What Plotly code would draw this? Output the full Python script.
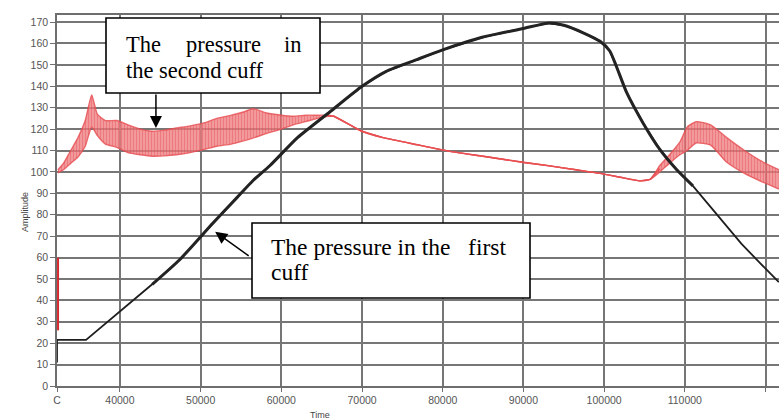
import plotly.graph_objects as go

# ---- data -------------------------------------------------------------
# first cuff (black) pressure vs time
time_first = [32200, 32200, 35800, 41200, 44000, 47400, 51500, 54500, 56500,
              58600, 62000, 66000, 70000, 73000, 76800, 80000, 85000, 90000,
              93000, 95000, 97400, 99500, 100700, 101500, 102800, 104800,
              106900, 109000, 111000, 113000, 115200, 117000, 119300, 121650]
pressure_first = [11, 21.5, 21.5, 38.5, 47.5, 59, 76, 88, 96,
                  103, 116, 128, 140, 147, 152.5, 157, 163, 167,
                  169.5, 168.5, 165, 161, 156.5, 149.5, 137, 123,
                  110.5, 101, 93.5, 84.5, 74.5, 66.5, 57.5, 48.5]

# second cuff (red) pressure: upper and lower envelope of the oscillation
time_second = [32300, 33000, 33900, 34800, 35700, 36500, 37200, 38200, 39600,
               41000, 42500, 44000, 45500, 47000, 48700, 50500, 52000, 53800,
               55300, 56500, 58200, 60000, 61500, 63000, 64500, 65800, 66500,
               68500, 70000, 72600, 76800, 80900, 85000, 90200, 93300, 96500,
               99500, 102000, 104400, 105700, 106900, 108100, 109400, 110300,
               111400, 113200, 115200, 117400, 119500, 121650]
second_upper = [101, 104, 110, 116, 124, 136, 127, 124, 124,
                122, 120, 119, 119.5, 120.5, 121.5, 123, 125, 126.5,
                128, 129.5, 127.5, 126.5, 126, 126.5, 126.5, 126.5, 126,
                122, 119, 116, 112.7, 109.6, 107.3, 104.3, 102.8, 101,
                99.3, 97.5, 95.8, 96.5, 103, 108, 114, 121,
                123.5, 122, 116, 110, 105, 101]
second_lower = [99.5, 101, 104, 107, 112, 121, 117, 113, 111.5,
                109, 108, 107.3, 107.5, 108, 109, 110.5, 112, 113,
                114.5, 115.8, 118, 120, 122, 123.5, 125, 126, 126,
                122, 119, 116, 112.7, 109.6, 107.3, 104.3, 102.8, 101,
                99.3, 97.5, 95.8, 96.5, 100, 104, 108, 110,
                113.5, 112.5, 104.5, 99.3, 95.5, 92]

# short start-up trace of the second channel at the left edge
time_second_start = [32330, 32330]
pressure_second_start = [26, 60]

x_tick_values = [32200, 40000, 50000, 60000, 70000, 80000, 90000, 100000, 110000, 120000]
x_tick_labels = ["C", "40000", "50000", "60000", "70000", "80000", "90000", "100000", "110000", "120000"]

# ---- geometry ---------------------------------------------------------
W, H = 779, 419
ML, MR, MT, MB = 57, 0, 15, 33
PW, PH = W - ML - MR, H - MT - MB
X_RANGE = [32200, 121670]
Y_RANGE = [0, 173.3]


def px(xp):
    return (xp - ML) / PW


def py(yp):
    return (H - MB - yp) / PH


RED = "rgb(232,80,82)"
RED_SOFT = "rgba(230,76,80,0.8)"

fig = go.Figure()

# red band: lower edge, then upper edge filled down to it with vertical hatching
fig.add_trace(go.Scatter(
    x=time_second, y=second_lower, mode="lines", line_shape="spline",
    line=dict(color=RED_SOFT, width=1.4, smoothing=0.5), hoverinfo="skip", showlegend=False))
fig.add_trace(go.Scatter(
    x=time_second, y=second_upper, mode="lines", line_shape="spline",
    line=dict(color=RED_SOFT, width=1.4, smoothing=0.5), fill="tonexty",
    fillpattern=dict(shape="|", fgcolor="rgba(226,60,66,0.9)",
                     bgcolor="rgba(242,138,140,0.7)", size=3, solidity=0.6),
    hoverinfo="skip", showlegend=False))
# smooth part of the second cuff drawn with a solid line
smooth_idx = [i for i, (u, l) in enumerate(zip(second_upper, second_lower)) if u == l]
seg = range(smooth_idx[0] - 1, smooth_idx[-1] + 2)
fig.add_trace(go.Scatter(
    x=[time_second[i] for i in seg],
    y=[(second_upper[i] + second_lower[i]) / 2 for i in seg],
    mode="lines", line=dict(color=RED, width=1.4), showlegend=False, hoverinfo="skip"))
fig.add_trace(go.Scatter(
    x=time_second_start, y=pressure_second_start, mode="lines",
    line=dict(color="rgb(215,40,45)", width=2), showlegend=False))

# black curve: thin base line plus a heavier middle section
fig.add_trace(go.Scatter(
    x=time_first, y=pressure_first, mode="lines",
    line=dict(color="rgb(30,30,30)", width=1.8), showlegend=False))
mid = [i for i, t in enumerate(time_first) if 44000 <= t <= 111500]
fig.add_trace(go.Scatter(
    x=[time_first[i] for i in mid], y=[pressure_first[i] for i in mid], mode="lines",
    line=dict(color="rgb(35,35,35)", width=3, shape="spline", smoothing=0.6), showlegend=False))

SERIF = "Liberation Serif, Times New Roman, serif"
FS = 22.5


def word(text, xp, yp, anchor="left", size=FS):
    return dict(xref="paper", yref="paper", x=px(xp), y=py(yp), xanchor=anchor,
                yanchor="middle", text=text, showarrow=False,
                font=dict(family=SERIF, size=size, color="black"))


annotations = [
    # first callout: justified top line, then second line
    word("The", 124, 44), word("pressure", 223, 44, "center"), word("in", 304, 44, "right"),
    word("the second cuff", 124, 71),
    # second callout
    word("The pressure in the\u00a0\u00a0 first", 269, 247, size=23.5),
    word("cuff", 269, 272, size=23.5),
    # arrows pointing at the curves
    dict(x=44460, y=120.5, xref="x", yref="y", text="", showarrow=True,
         ax=0, ay=-35, arrowhead=2, arrowsize=1.6, arrowwidth=1.5, arrowcolor="black"),
    dict(x=51800, y=72, xref="x", yref="y", text="", showarrow=True,
         ax=35, ay=25, arrowhead=2, arrowsize=1.6, arrowwidth=1.5, arrowcolor="black"),
    # axis titles
    dict(xref="paper", yref="paper", x=px(18), y=py(212), text="Amplitude",
         textangle=-90, showarrow=False, font=dict(family="Liberation Sans", size=9, color="#444")),
    dict(xref="paper", yref="paper", x=px(320), y=py(415), yanchor="middle", text="Time",
         showarrow=False, font=dict(family="Liberation Sans", size=9, color="#444")),
]

shapes = [
    dict(type="rect", xref="paper", yref="paper", x0=px(106), x1=px(320), y0=py(93), y1=py(18),
         line=dict(color="black", width=1.6), fillcolor="white", layer="above"),
    dict(type="rect", xref="paper", yref="paper", x0=px(252), x1=px(530), y0=py(298), y1=py(223),
         line=dict(color="black", width=1.6), fillcolor="white", layer="above"),
]

fig.update_layout(
    width=W, height=H,
    margin=dict(l=ML, r=MR, t=MT, b=MB, pad=0),
    paper_bgcolor="white", plot_bgcolor="white",
    annotations=annotations, shapes=shapes,
    showlegend=False,
)
fig.update_xaxes(
    range=X_RANGE, tickvals=x_tick_values, ticktext=x_tick_labels,
    showgrid=True, gridcolor="rgb(118,118,118)", gridwidth=1.7,
    showline=True, linecolor="rgb(110,110,110)", linewidth=1.5, mirror=True,
    ticks="outside", ticklen=4, tickcolor="rgb(110,110,110)",
    tickfont=dict(family="Liberation Sans", size=10.5, color="#555"),
    zeroline=False,
)
fig.update_yaxes(
    range=Y_RANGE, tick0=0, dtick=10,
    showgrid=True, gridcolor="rgb(118,118,118)", gridwidth=1.7,
    showline=True, linecolor="rgb(110,110,110)", linewidth=1.5,
    ticks="outside", ticklen=5, tickcolor="rgb(110,110,110)",
    tickfont=dict(family="Liberation Sans", size=10.5, color="#555"),
    zeroline=False,
)

fig.write_html("out.html")
